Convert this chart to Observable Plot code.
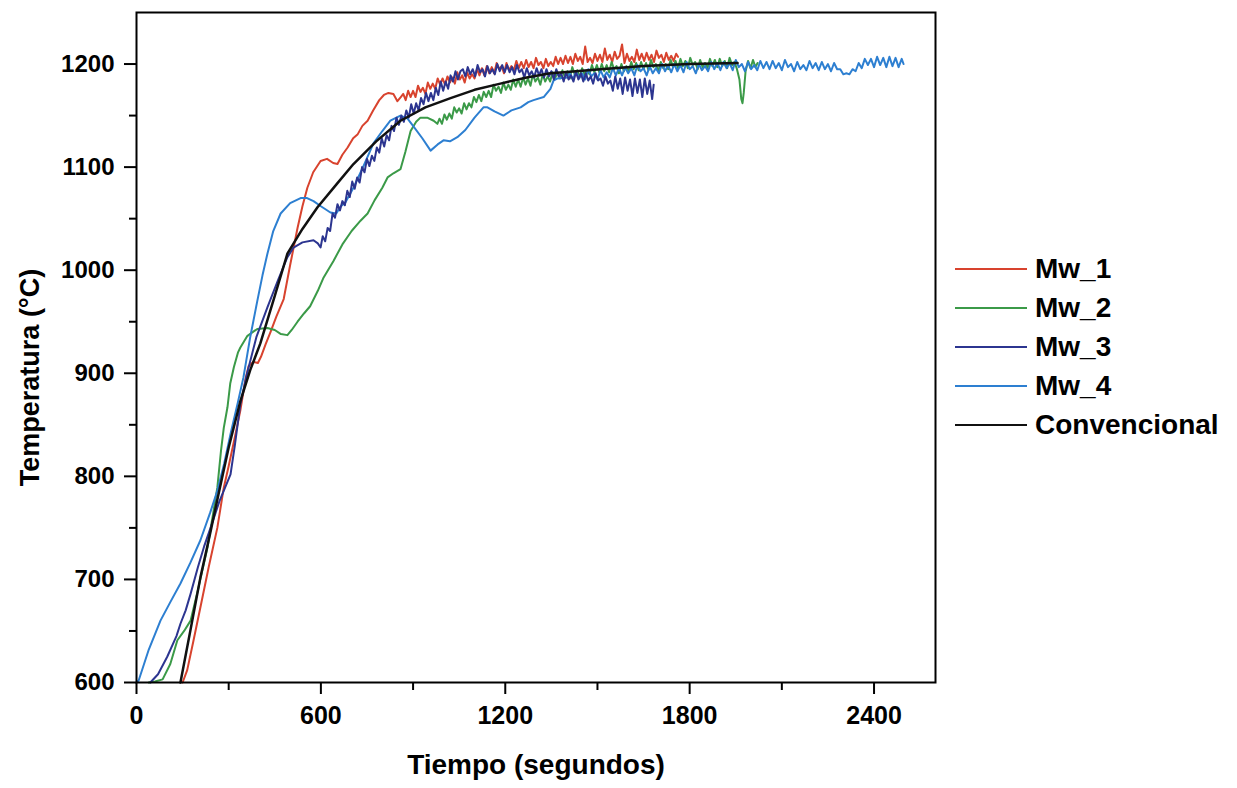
<!DOCTYPE html>
<html><head><meta charset="utf-8">
<script src="https://cdn.jsdelivr.net/npm/d3@7"></script>
<script src="https://cdn.jsdelivr.net/npm/@observablehq/plot@0.6"></script>
<style>
body{margin:0;background:#fff;}
#wrap{position:relative;width:1237px;height:788px;font-family:"Liberation Sans",Arial,sans-serif;font-weight:bold;}
#legend{position:absolute;left:0;top:0;}
.lg{position:absolute;display:flex;align-items:center;font-size:28px;font-weight:bold;color:#000;white-space:nowrap;}
.lg span.sw{display:inline-block;width:72px;height:2px;margin-right:8px;}
</style></head><body><div id="wrap"></div>
<script>
const seriesNames = ["Mw_1", "Mw_2", "Mw_3", "Mw_4", "Convencional"];
const seriesColors = ["#d8432e", "#3b9a48", "#2c3590", "#2d7fd1", "#111111"];
const xTicks = [0, 600, 1200, 1800, 2400];
const xMinor = [300, 900, 1500, 2100];
const yTicks = [600, 700, 800, 900, 1000, 1100, 1200];
const yMinor = [650, 750, 850, 950, 1050, 1150];

const mw1 = [[150,600],[165,612],[185,640],[208,673],[235,712],[263,750],[284,789],[300,810],[320,838],[338,864],[355,895],[365,907],[380,911],[395,910],[405,916],[420,928],[436,940],[455,955],[479,972],[500,1005],[524,1041],[540,1062],[556,1080],[575,1095],[599,1106],[620,1108],[640,1104],[654,1103],[670,1112],[687,1119],[705,1128],[720,1132],[735,1140],[752,1145],[770,1155],[790,1165],[805,1170],[820,1172],[836,1171],[849,1164],[860,1168],
[868,1171],[876,1165],[884,1174],[892,1168],[900,1174],[908,1168],[916,1179],[924,1173],[932,1177],[940,1171],[948,1182],[956,1176],[964,1181],[972,1176],[980,1186],[988,1180],[996,1186],[1004,1180],[1012,1188],[1020,1182],[1028,1187],[1036,1181],[1044,1192],[1052,1185],[1060,1189],[1068,1182],[1076,1192],[1084,1186],[1092,1190],[1100,1186],[1108,1195],[1116,1189],[1124,1196],[1132,1189],[1140,1198],[1148,1191],[1156,1197],[1164,1191],[1172,1201],[1180,1195],[1188,1198],[1196,1191],[1204,1201],[1212,1194],[1220,1198],[1228,1194],[1236,1203],[1244,1196],[1252,1202],[1260,1196],[1268,1204],[1276,1197],[1284,1202],[1292,1196],[1300,1206],[1308,1199],[1316,1202],[1324,1196],[1332,1205],[1340,1198],[1348,1202],[1356,1198],[1364,1207],[1372,1200],[1380,1206],[1388,1200],[1396,1208],[1404,1201],[1412,1207],[1420,1200],[1428,1210],[1436,1203],[1444,1207],[1452,1200],[1460,1217],[1468,1202],[1476,1206],[1484,1201],[1492,1210],[1500,1203],[1508,1209],[1516,1202],[1524,1215],[1532,1204],[1540,1209],[1548,1202],[1556,1212],[1564,1205],[1572,1208],[1580,1219],[1588,1201],[1596,1210],[1604,1203],[1612,1207],[1620,1202],[1628,1214],[1636,1204],[1644,1210],[1652,1203],[1660,1211],[1668,1204],[1676,1209],[1684,1202],[1692,1213],[1700,1206],[1708,1209],[1716,1202],[1724,1211],[1732,1204],[1740,1208],[1748,1203],[1756,1210],[1762,1207]];

const mw2 = [[40,600],[60,601],[85,603],[110,618],[133,641],[155,650],[176,660],[200,690],[231,731],[250,765],[263,789],[275,825],[284,847],[296,867],[305,890],[317,906],[330,920],[338,925],[360,936],[393,943],[426,944],[450,942],[470,938],[491,937],[505,942],[524,950],[545,958],[565,965],[590,980],[609,993],[641,1009],[670,1025],[700,1038],[729,1048],[752,1055],[775,1068],[800,1080],[817,1090],[836,1094],[859,1098],[875,1115],[892,1135],[910,1144],[924,1148],[946,1148],[967,1145],[979,1142],
[986,1147],[994,1142],[1002,1151],[1010,1146],[1018,1152],[1026,1147],[1034,1158],[1042,1153],[1050,1157],[1058,1152],[1066,1162],[1074,1156],[1082,1162],[1090,1158],[1098,1168],[1106,1163],[1114,1170],[1122,1164],[1130,1173],[1138,1168],[1146,1174],[1154,1168],[1162,1180],[1170,1174],[1178,1178],[1186,1172],[1194,1182],[1202,1175],[1210,1180],[1218,1175],[1226,1185],[1234,1178],[1242,1185],[1250,1178],[1258,1187],[1266,1180],[1274,1186],[1282,1179],[1290,1190],[1298,1183],[1306,1187],[1314,1180],[1322,1190],[1330,1183],[1338,1188],[1346,1183],[1354,1192],[1362,1186],[1370,1192],[1378,1186],[1386,1194],[1394,1187],[1402,1193],[1410,1186],[1418,1197],[1426,1190],[1434,1194],[1442,1187],[1450,1196],[1458,1190],[1466,1194],[1474,1190],[1482,1199],[1490,1192],[1498,1199],[1506,1192],[1514,1200],[1522,1193],[1530,1199],[1538,1192],[1546,1202],[1554,1195],[1562,1198],[1570,1191],[1578,1200],[1586,1193],[1594,1198],[1602,1193],[1610,1202],[1618,1195],[1626,1201],[1634,1194],[1642,1202],[1650,1195],[1658,1201],[1666,1194],[1674,1204],[1682,1197],[1690,1200],[1698,1193],[1706,1202],[1714,1196],[1722,1200],[1730,1195],[1738,1204],[1746,1197],[1754,1203],[1762,1196],[1770,1205],[1778,1198],[1786,1203],[1794,1196],[1802,1206],[1810,1199],[1818,1202],[1826,1195],[1834,1204],[1842,1197],[1850,1201],[1858,1196],[1866,1205],[1874,1198],[1882,1204],[1890,1197],[1898,1205],[1906,1198],[1914,1203],[1922,1196],[1930,1206],[1938,1199],[1946,1202],[1954,1195],[1962,1185],[1968,1166],[1972,1162],[1976,1172],[1982,1193],[1990,1203],[1998,1196],[2006,1204],[2014,1197],[2021,1201]];

const mw3 = [[45,600],[70,608],[100,625],[130,645],[143,657],[160,670],[176,686],[200,712],[220,732],[241,750],[270,776],[306,802],[320,830],[338,870],[360,900],[390,935],[426,964],[460,990],[490,1012],[511,1022],[540,1027],[576,1029],[590,1026],[599,1022],
[606,1033],[614,1028],[622,1041],[630,1038],[638,1055],[646,1051],[654,1064],[662,1058],[670,1067],[678,1063],[686,1077],[694,1071],[702,1086],[710,1079],[718,1090],[726,1085],[734,1100],[742,1095],[750,1108],[758,1101],[766,1111],[774,1106],[782,1119],[790,1114],[798,1128],[806,1120],[814,1131],[822,1126],[830,1140],[838,1135],[846,1148],[854,1141],[862,1150],[870,1144],[878,1155],[886,1148],[894,1161],[902,1152],[910,1162],[918,1155],[926,1167],[934,1161],[942,1172],[950,1164],[958,1172],[966,1165],[974,1177],[982,1170],[990,1183],[998,1174],[1006,1183],[1014,1176],[1022,1189],[1030,1183],[1038,1193],[1046,1185],[1054,1193],
[1062,1195],[1070,1188],[1078,1197],[1086,1190],[1094,1195],[1102,1188],[1110,1199],[1118,1192],[1126,1195],[1134,1188],[1142,1198],[1150,1191],[1158,1195],[1166,1190],[1174,1200],[1182,1193],[1190,1199],[1198,1192],[1206,1199],[1214,1192],[1222,1197],[1230,1190],[1238,1199],[1246,1192],[1254,1195],[1262,1187],[1270,1196],[1278,1189],[1286,1193],[1294,1187],[1302,1196],[1310,1189],[1318,1195],[1326,1187],[1334,1195],[1342,1188],[1350,1193],[1358,1185],[1366,1195],[1374,1188],[1382,1191],[1390,1183],[1398,1192],[1406,1185],[1414,1189],[1422,1183],[1430,1192],[1438,1185],[1446,1191],[1454,1183],[1462,1191],[1470,1184],[1478,1188],[1486,1181],[1494,1191],[1502,1184],[1510,1186],[1518,1179],[1526,1188],[1534,1181],[1542,1184],[1550,1174],[1558,1188],[1566,1176],[1574,1186],[1582,1171],[1590,1187],[1598,1174],[1606,1185],[1614,1169],[1622,1186],[1630,1172],[1638,1185],[1646,1168],[1654,1186],[1662,1171],[1670,1184],[1678,1166],[1683,1180]];

const mw4 = [[0,600],[7,602],[40,632],[78,660],[110,678],[143,696],[175,716],[208,738],[240,765],[263,786],[285,812],[306,841],[330,872],[348,896],[370,935],[393,970],[410,995],[426,1016],[445,1038],[469,1055],[500,1065],[534,1070],[555,1070],[576,1067],[600,1062],[631,1056],[650,1055],[665,1062],[680,1066],[706,1080],[740,1102],[771,1123],[800,1135],[826,1145],[859,1150],[882,1147],[900,1140],[930,1128],[957,1116],[980,1122],[999,1126],[1020,1125],[1044,1129],[1070,1136],[1100,1148],[1129,1158],[1142,1158],[1165,1154],[1194,1150],[1220,1155],[1250,1158],[1275,1163],[1292,1165],[1325,1168],[1347,1176],[1357,1184],[1370,1186],[1402,1187],
[1410,1191],[1420,1185],[1430,1193],[1440,1186],[1450,1191],[1460,1185],[1470,1195],[1480,1188],[1490,1191],[1500,1185],[1510,1194],[1520,1187],[1530,1192],[1540,1187],[1550,1196],[1560,1189],[1570,1196],[1580,1189],[1590,1197],[1600,1191],[1610,1196],[1620,1189],[1630,1199],[1640,1193],[1650,1196],[1660,1189],[1670,1198],[1680,1191],[1690,1196],[1700,1191],[1710,1200],[1720,1193],[1730,1199],[1740,1192],[1750,1200],[1760,1193],[1770,1199],[1780,1192],[1790,1202],[1800,1195],[1810,1198],[1820,1191],[1830,1200],[1840,1194],[1850,1198],[1860,1193],[1870,1202],[1880,1195],[1890,1201],[1900,1194],[1910,1202],[1920,1196],[1930,1201],[1940,1194],[1950,1204],[1960,1197],[1970,1200],[1980,1193],[1990,1202],[2000,1195],[2010,1199],[2020,1194],[2030,1203],[2040,1196],[2050,1202],[2060,1195],[2070,1203],[2080,1196],[2090,1201],[2100,1194],[2110,1204],[2120,1197],[2130,1200],[2140,1193],[2150,1202],[2160,1195],[2170,1199],[2180,1194],[2190,1203],[2200,1196],[2210,1201],[2220,1194],[2230,1202],[2240,1195],[2250,1200],[2260,1193],[2270,1201],[2280,1195],[2290,1195],[2300,1190],[2310,1191],[2320,1190],[2330,1195],[2340,1193],[2350,1201],[2360,1196],[2370,1205],[2380,1199],[2390,1205],[2400,1197],[2410,1207],[2420,1199],[2430,1206],[2440,1197],[2450,1207],[2460,1198],[2470,1206],[2480,1197],[2490,1205],[2496,1200]];

const conv = [[143,600],[175,650],[208,702],[240,745],[267,783],[300,828],[338,873],[370,903],[403,929],[450,975],[491,1016],[540,1040],[589,1061],[650,1083],[706,1103],[780,1125],[859,1145],[940,1158],[1022,1167],[1100,1175],[1184,1181],[1270,1187],[1347,1191],[1430,1193],[1510,1195],[1650,1198],[1800,1200],[1956,1201]];

const seriesData = [mw1, mw2, mw4, mw3, conv];
const seriesOrder = [0, 1, 3, 2, 4];

const font = '"Liberation Sans", Arial, sans-serif';
const marks = [];
seriesData.forEach((data, i) => {
  const k = seriesOrder[i];
  marks.push(Plot.line(data, {x: d => d[0], y: d => d[1], stroke: seriesColors[k], strokeWidth: k === 4 ? 2.5 : 2}));
});

const chart = Plot.plot({
  width: 1237, height: 788,
  marginLeft: 136, marginRight: 302, marginTop: 12, marginBottom: 106,
  style: {fontFamily: font, fontWeight: "bold", background: "#fff", color: "#000"},
  x: {domain: [0, 2600]},
  y: {domain: [600, 1250]},
  marks: [
    ...marks,
    Plot.frame({stroke: "#000", strokeWidth: 2}),
    Plot.axisX({ticks: xTicks, tickFormat: d => String(d), tickSize: 12, tickPadding: 12, fontSize: 25, fontWeight: "bold", strokeWidth: 2, label: null}),
    Plot.axisX({ticks: xMinor, tickSize: 8, tickFormat: () => "", strokeWidth: 2, label: null}),
    Plot.axisY({ticks: yTicks, tickFormat: d => String(d), tickSize: 12, tickPadding: 10, fontSize: 24, fontWeight: "bold", strokeWidth: 2, label: null}),
    Plot.axisY({ticks: yMinor, tickSize: 7, tickFormat: () => "", strokeWidth: 2, label: null}),
    Plot.text(["Tiempo (segundos)"], {frameAnchor: "bottom", lineAnchor: "middle", textAnchor: "middle", dy: 83, fontSize: 28, fontWeight: "bold"}),
    Plot.text(["Temperatura (°C)"], {frameAnchor: "left", lineAnchor: "middle", textAnchor: "middle", dx: -106, dy: 30, rotate: -90, fontSize: 27, fontWeight: "bold"})
  ]
});
const wrap = document.getElementById("wrap");
wrap.appendChild(chart);

const legend = document.createElement("div");
legend.id = "legend";
seriesNames.forEach((name, i) => {
  const row = document.createElement("div");
  row.className = "lg";
  row.style.left = "955px";
  row.style.top = (269 + 39 * i - 16) + "px";
  row.style.height = "32px";
  const sw = document.createElement("span");
  sw.className = "sw";
  sw.style.background = seriesColors[i];
  row.appendChild(sw);
  row.appendChild(document.createTextNode(name));
  legend.appendChild(row);
});
wrap.appendChild(legend);
</script>
</body></html>
